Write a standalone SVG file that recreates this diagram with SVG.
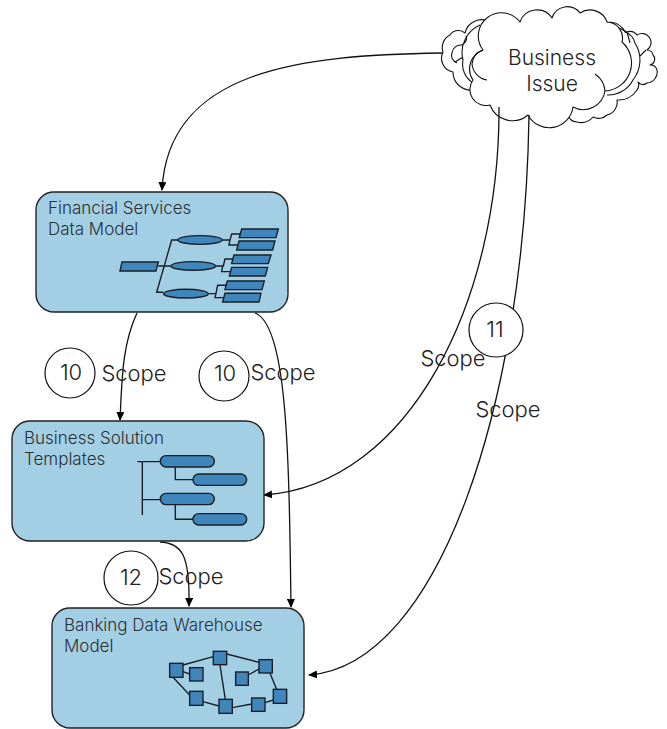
<svg xmlns="http://www.w3.org/2000/svg" width="667" height="729" viewBox="0 0 667 729">
<style>
text{font-family:"Inter","Liberation Sans",sans-serif;font-weight:300;fill:#2b2f33}
.t{font-size:17px}
.s{font-size:22px;text-anchor:middle;fill:#222}
.b{font-size:21px;text-anchor:middle;fill:#222}
.n{font-size:22px;text-anchor:middle;fill:#222}
.box{fill:#a3cfe5;stroke:#222;stroke-width:1.4}
.c{fill:#fff;stroke:#111;stroke-width:1.2}
.l{fill:none;stroke:#111;stroke-width:1.3}
.cl{fill:#fff;stroke:#111;stroke-width:1.1;stroke-linejoin:round}
.in{fill:none;stroke:#111;stroke-width:1.1}
.i{fill:#3f86bd;stroke:#1a1f26;stroke-width:4.2}
.il{fill:none;stroke:#1a1f26;stroke-width:4.2}
</style>
<defs><marker id="a" markerWidth="9" markerHeight="8" refX="8" refY="4" orient="auto" markerUnits="userSpaceOnUse"><path d="M0 0L9 4L0 8Z" fill="#000"/></marker></defs>
<g id="cloud">
<path class="cl" d="M443 52A14 14 0 0 1 450 35A10 10 0 0 1 465 33A17 17 0 0 1 490 22L607 22L627 32A9 9 0 0 1 637 35A9 9 0 0 1 647 50A6 6 0 0 1 653 55A6 6 0 0 1 650 65A7 7 0 0 1 657 70A11 11 0 0 1 647 83A6 6 0 0 1 638 82A8 8 0 0 1 637 90A22 22 0 0 1 617 100A13 13 0 0 1 607 115A12 12 0 0 1 593 117A16 16 0 0 1 577 122A10 10 0 0 1 568 115L473 90A18 18 0 0 1 453 72A14 14 0 0 1 443 52Z"/>
<path class="in" d="M480 25A30 30 0 0 0 463 60A22 22 0 0 0 473 83M466 36C468 40 465 43 462 45A9 9 0 0 0 452 53A8 8 0 0 0 457 63M455 62L463 57M610 22A18 18 0 0 1 625 32A16 16 0 0 1 635 43A32 32 0 0 1 633 80A28 28 0 0 1 607 95M627 32L630 43M646 50L640 56"/>
<path class="cl" d="M483 50A23 23 0 0 1 520 22A18 18 0 0 1 552 18A16 16 0 0 1 580 13A18 18 0 0 1 607 22A16 16 0 0 1 622 42A28 28 0 0 1 605 91A22 22 0 0 1 573 107A24 24 0 0 1 528 115A24 24 0 0 1 490 105A16 16 0 0 1 473 80A20 20 0 0 1 483 50Z"/>
<path class="in" d="M483 50A17 17 0 0 0 472 64A18 18 0 0 0 487 80M595 74A23 23 0 0 1 605 91"/>
<text class="b" x="552" y="65">Business</text>
<text class="b" x="552" y="91">Issue</text>
</g>
<g id="connectors">
<path class="l" marker-end="url(#a)" d="M442 53C300 55 168 70 162 190"/>
<path class="l" marker-end="url(#a)" d="M137 313C122 345 122 380 120 420"/>
<path class="l" marker-end="url(#a)" d="M255 313C288 325 289 460 291 607"/>
<path class="l" marker-end="url(#a)" d="M499 107C500 300 410 485 264 495"/>
<path class="l" marker-end="url(#a)" d="M529 115C525 400 440 665 309 675"/>
<path class="l" marker-end="url(#a)" d="M160 542C182 543 190 555 189 606"/>
</g>
<g id="node-financial">
<rect class="box" x="36" y="192" width="252" height="120" rx="18"/>
<text class="t" x="48" y="214">Financial Services</text>
<text class="t" x="48" y="235">Data Model</text>
<g transform="translate(30 185) scale(.3333)">
<path class="il" d="M445 165H425L380 322H400M385 243H423M578 165H600L605 147H632M600 165L597 180H622M557 243H580L585 222H610M578 243L575 260H600M537 326H558L563 301H590M558 326L555 338H580"/>
<path class="i" d="M276 231H385L378 258H270Z"/>
<ellipse class="i" cx="510" cy="165" rx="67" ry="13"/>
<ellipse class="i" cx="490" cy="243" rx="67" ry="13"/>
<ellipse class="i" cx="468" cy="326" rx="67" ry="13"/>
<path class="i" d="M635 132H745L738 158H628Z"/>
<path class="i" d="M627 168H735L728 195H620Z"/>
<path class="i" d="M612 210H723L715 236H605Z"/>
<path class="i" d="M605 247H713L706 273H598Z"/>
<path class="i" d="M592 288H703L696 314H585Z"/>
<path class="i" d="M585 325H693L687 351H578Z"/>
</g>
</g>
<g id="node-templates">
<rect class="box" x="12" y="421" width="252" height="120" rx="18"/>
<text class="t" x="24" y="444">Business Solution</text>
<text class="t" x="24" y="465">Templates</text>
<g transform="translate(5 415) scale(.3333)">
<path class="il" d="M412 140V300M397 140H466M412 254H466M511 156V194H564M511 269V313H564"/>
<rect class="i" x="466" y="122" width="162" height="34" rx="17"/>
<rect class="i" x="564" y="177" width="161" height="34" rx="17"/>
<rect class="i" x="466" y="235" width="162" height="34" rx="17"/>
<rect class="i" x="564" y="296" width="161" height="34" rx="17"/>
</g>
</g>
<g id="node-warehouse">
<rect class="box" x="52" y="608" width="252" height="120" rx="18"/>
<text class="t" x="64" y="631">Banking Data Warehouse</text>
<text class="t" x="64" y="652">Model</text>
<g transform="translate(45 600) scale(.3333)">
<path class="il" d="M414 195L505 170M545 162L642 187M610 225L642 207M675 220L695 268M685 300L660 308M620 312L562 323M525 195L541 298M522 318L474 305M384 232L434 285M414 215L434 222"/>
<rect class="i" x="374" y="190" width="40" height="42"/>
<rect class="i" x="434" y="203" width="40" height="40"/>
<rect class="i" x="505" y="154" width="40" height="40"/>
<rect class="i" x="572" y="216" width="38" height="40"/>
<rect class="i" x="642" y="179" width="40" height="40"/>
<rect class="i" x="685" y="268" width="40" height="42"/>
<rect class="i" x="620" y="294" width="40" height="40"/>
<rect class="i" x="522" y="298" width="40" height="42"/>
<rect class="i" x="434" y="274" width="40" height="42"/>
</g>
</g>
<g id="marker-10a"><circle class="c" cx="70" cy="373" r="25"/><text class="n" x="71" y="380">10</text></g>
<g id="marker-10b"><circle class="c" cx="224" cy="376" r="25"/><text class="n" x="225" y="381">10</text></g>
<g id="marker-11"><circle class="c" cx="496" cy="330" r="27"/><text class="n" x="495" y="337">11</text></g>
<g id="marker-12"><circle class="c" cx="131" cy="578" r="27"/><text class="n" x="131" y="585">12</text></g>
<text class="s" x="134" y="381">Scope</text>
<text class="s" x="283" y="380">Scope</text>
<text class="s" x="453" y="366">Scope</text>
<text class="s" x="508" y="417">Scope</text>
<text class="s" x="191" y="584">Scope</text>
</svg>
